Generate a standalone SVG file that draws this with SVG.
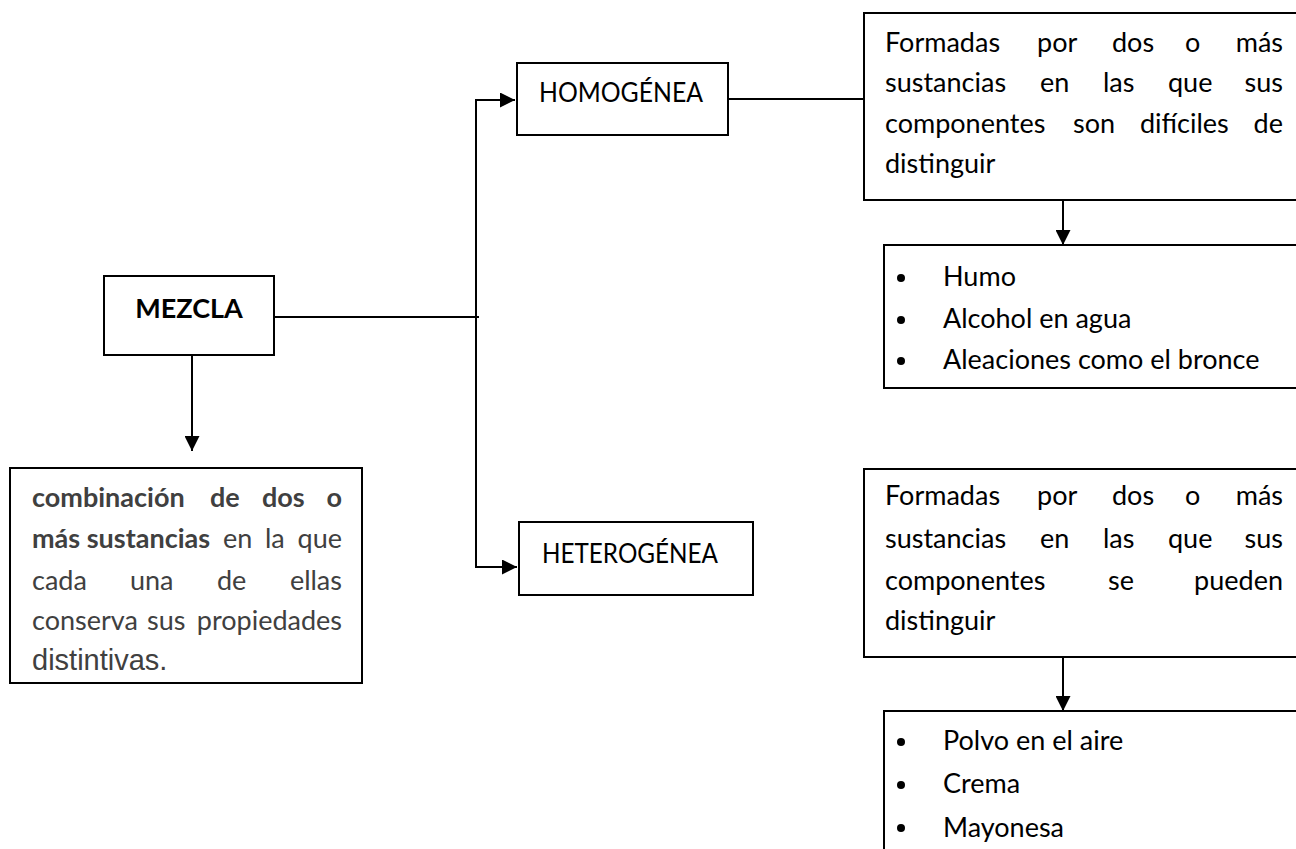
<svg xmlns="http://www.w3.org/2000/svg" width="1296" height="849" viewBox="0 0 1296 849">
<defs>
<style>
.box{fill:#fff;stroke:#000;stroke-width:2}
.t{font-family:Lato,"Open Sans","Liberation Sans",sans-serif;font-size:27px;fill:#000}
.g{font-family:Lato,"Open Sans","Liberation Sans",sans-serif;font-size:27px;fill:#404040}
.b{font-weight:bold}
.ln{fill:none;stroke:#000;stroke-width:2}
</style>
<marker id="ah" markerWidth="15" markerHeight="15" refX="15" refY="7.5" orient="auto" markerUnits="userSpaceOnUse">
<path d="M0,0 L15,7.5 L0,15 Z" fill="#000"/>
</marker>
</defs>
<rect width="1296" height="849" fill="#fff"/>
<g id="connectors">
<polyline class="ln" points="274,317 479,317"/>
<polyline class="ln" points="476,567 476,100 515,100" marker-end="url(#ah)"/>
<polyline class="ln" points="476,317 476,567 517,567" marker-end="url(#ah)"/>
<line class="ln" x1="192" y1="355" x2="192" y2="451" marker-end="url(#ah)"/>
<line class="ln" x1="728" y1="99" x2="864" y2="99"/>
<line class="ln" x1="1063" y1="200" x2="1063" y2="245" marker-end="url(#ah)"/>
<line class="ln" x1="1063" y1="657" x2="1063" y2="711" marker-end="url(#ah)"/>
</g>
<g id="mezcla">
<rect class="box" x="104" y="276" width="170" height="79"/>
<text class="t b" x="189" y="318" text-anchor="middle">MEZCLA</text>
</g>
<g id="definicion">
<rect class="box" x="10" y="468" width="352" height="215"/>
<text class="g b" y="507"><tspan x="32">combinación</tspan><tspan x="210">de</tspan><tspan x="262">dos</tspan><tspan x="342" text-anchor="end">o</tspan></text>
<text class="g" y="548"><tspan x="32" class="b">más sustancias</tspan><tspan x="223">en</tspan><tspan x="265">la</tspan><tspan x="342" text-anchor="end">que</tspan></text>
<text class="g" y="590"><tspan x="32">cada</tspan><tspan x="130">una</tspan><tspan x="217">de</tspan><tspan x="342" text-anchor="end">ellas</tspan></text>
<text class="g" y="630"><tspan x="32">conserva</tspan><tspan x="147">sus</tspan><tspan x="342" text-anchor="end">propiedades</tspan></text>
<text x="32" y="670" style="font-family:'Liberation Sans',Arial,sans-serif;font-size:29px;fill:#404040">distintivas.</text>
</g>
<g id="homogenea">
<rect class="box" x="517" y="63" width="211" height="72"/>
<text class="t" x="539" y="102" textLength="164" lengthAdjust="spacingAndGlyphs">HOMOGÉNEA</text>
</g>
<g id="heterogenea">
<rect class="box" x="519" y="522" width="234" height="73"/>
<text class="t" x="542" y="563" textLength="176" lengthAdjust="spacingAndGlyphs">HETEROGÉNEA</text>
</g>
<g id="desc-homogenea">
<rect class="box" x="864" y="13" width="450" height="187"/>
<text class="t" y="52"><tspan x="885">Formadas</tspan><tspan x="1037">por</tspan><tspan x="1112">dos</tspan><tspan x="1185">o</tspan><tspan x="1283" text-anchor="end">más</tspan></text>
<text class="t" y="92"><tspan x="885">sustancias</tspan><tspan x="1040">en</tspan><tspan x="1103">las</tspan><tspan x="1168">que</tspan><tspan x="1283" text-anchor="end">sus</tspan></text>
<text class="t" y="133"><tspan x="885">componentes</tspan><tspan x="1073">son</tspan><tspan x="1140">difíciles</tspan><tspan x="1283" text-anchor="end">de</tspan></text>
<text class="t" x="885" y="173">distinguir</text>
</g>
<g id="ejemplos-homogenea">
<rect class="box" x="884" y="245" width="430" height="143"/>
<circle cx="901" cy="278" r="4"/>
<circle cx="901" cy="320" r="4"/>
<circle cx="901" cy="361" r="4"/>
<text class="t" x="943" y="286">Humo</text>
<text class="t" x="943" y="328">Alcohol en agua</text>
<text class="t" x="943" y="369">Aleaciones como el bronce</text>
</g>
<g id="desc-heterogenea">
<rect class="box" x="864" y="469" width="450" height="188"/>
<text class="t" y="505"><tspan x="885">Formadas</tspan><tspan x="1037">por</tspan><tspan x="1112">dos</tspan><tspan x="1185">o</tspan><tspan x="1283" text-anchor="end">más</tspan></text>
<text class="t" y="548"><tspan x="885">sustancias</tspan><tspan x="1040">en</tspan><tspan x="1103">las</tspan><tspan x="1168">que</tspan><tspan x="1283" text-anchor="end">sus</tspan></text>
<text class="t" y="590"><tspan x="885">componentes</tspan><tspan x="1108">se</tspan><tspan x="1283" text-anchor="end">pueden</tspan></text>
<text class="t" x="885" y="630">distinguir</text>
</g>
<g id="ejemplos-heterogenea">
<rect class="box" x="884" y="711" width="430" height="160"/>
<circle cx="901" cy="742" r="4"/>
<circle cx="901" cy="785" r="4"/>
<circle cx="901" cy="828" r="4"/>
<text class="t" x="943" y="750">Polvo en el aire</text>
<text class="t" x="943" y="793">Crema</text>
<text class="t" x="943" y="837">Mayonesa</text>
</g>
</svg>
